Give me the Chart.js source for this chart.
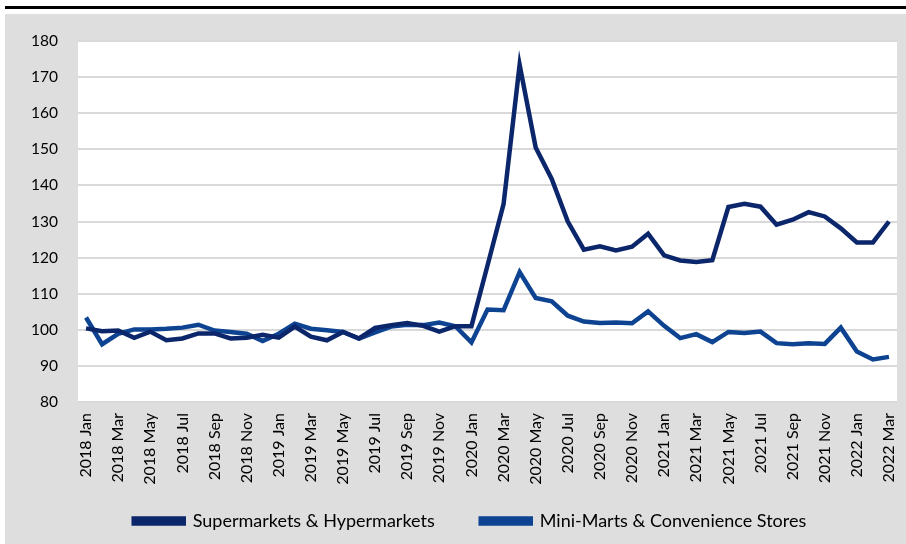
<!DOCTYPE html>
<html>
<head>
<meta charset="utf-8">
<script src="https://cdn.jsdelivr.net/npm/chart.js@4/dist/chart.umd.min.js"></script>
<style>
  html, body { margin: 0; padding: 0; background: #fff; }
  #rule { position: absolute; left: 5px; top: 6px; width: 901px; height: 3px; background: #000; }
  #box { position: absolute; left: 5px; top: 14px; width: 901px; height: 530px; background: #dedede; }
</style>
</head>
<body>
<div id="rule"></div>
<div id="box"><canvas id="cs" width="901" height="530"></canvas></div>
<script>
// monthly index, 2018 Jan .. 2022 Mar
var monthNames = "Jan,Feb,Mar,Apr,May,Jun,Jul,Aug,Sep,Oct,Nov,Dec".split(",");
var months = [];
for (var y = 2018; y <= 2022; y++) {
  for (var m = 0; m < 12; m++) {
    if (y === 2022 && m > 2) break;
    months.push(y + " " + monthNames[m]);
  }
}

var supermarkets = [100.4, 99.6, 99.8, 97.8, 99.5, 97.1, 97.6, 99.0, 99.0, 97.6,
  97.8, 98.6, 97.8, 100.9, 98.1, 97.1, 99.4, 97.6, 100.5, 101.3,
  101.9, 101.1, 99.5, 101.0, 101.0, 117.8, 134.8, 173.4, 150.5, 141.8,
  130.0, 122.2, 123.1, 122.0, 123.0, 126.6, 120.6, 119.2, 118.8, 119.3,
  134.0, 134.9, 134.1, 129.1, 130.5, 132.6, 131.4, 128.1, 124.2, 124.2, 130.0];

var miniMarts = [103.4, 96.0, 98.9, 100.1, 100.1, 100.3, 100.6, 101.4, 99.8, 99.4,
  98.9, 96.9, 98.9, 101.7, 100.3, 99.9, 99.4, 97.6, 99.3, 100.9,
  101.4, 101.3, 102.0, 101.0, 96.5, 105.6, 105.4, 116.0, 108.8, 107.9,
  103.9, 102.3, 101.9, 102.0, 101.8, 105.1, 101.1, 97.7, 98.8, 96.6,
  99.4, 99.1, 99.5, 96.3, 96.0, 96.3, 96.1, 100.6, 94.0, 91.8, 92.5];

var yMin = 80, yMax = 180, yStep = 10;

var FONT = "Lato, 'Open Sans', sans-serif";

// white plot area on the grey panel
var plotBg = {
  id: "plotBg",
  beforeDraw: function (chart) {
    var a = chart.chartArea, c = chart.ctx;
    c.save();
    c.fillStyle = "#ffffff";
    c.fillRect(a.left, a.top, a.right - a.left, a.bottom - a.top);
    c.restore();
  }
};

// x labels are longer than the fixed axis height: let them hang into the
// legend's empty top margin instead of being clipped; nudge legend right
var tweakLayout = {
  id: "tweakLayout",
  afterLayout: function (chart) {
    chart.scales.x.bottom = chart.height;
    chart.legend.left += 19;
    chart.legend.right += 19;
  }
};

var ctx = document.getElementById("cs");
var chart = new Chart(ctx, {
  type: "line",
  data: {
    labels: months,
    datasets: [{
      label: "Supermarkets & Hypermarkets",
      data: supermarkets,
      borderColor: "#0b266a",
      backgroundColor: "#0b266a",
      borderWidth: 4.5,
      pointRadius: 0,
      tension: 0
    }, {
      label: "Mini-Marts & Convenience Stores",
      data: miniMarts,
      borderColor: "#0d4391",
      backgroundColor: "#0d4391",
      borderWidth: 4.5,
      pointRadius: 0,
      tension: 0
    }]
  },
  options: {
    responsive: false,
    animation: false,
    layout: { padding: { top: 27, right: 9, left: 0, bottom: 4 } },
    scales: {
      x: {
        offset: true,
        afterFit: function (s) {
          s.height = 64;
          s.paddingLeft = 0;
          s.paddingRight = 0;
        },
        grid: { display: false, drawTicks: false },
        border: { display: false },
        ticks: {
          autoSkip: false,
          maxRotation: 90,
          minRotation: 90,
          padding: 11,
          color: "#000",
          font: { family: FONT, size: 16 },
          callback: function (v, i) { return i % 2 === 0 ? months[i] : ""; }
        }
      },
      y: {
        min: yMin,
        max: yMax,
        afterFit: function (s) {
          s.width = 73;
          s.paddingTop = 0;
          s.paddingBottom = 0;
        },
        grid: { color: "#d9d9d9", lineWidth: 2, drawTicks: false },
        border: { display: false },
        ticks: {
          stepSize: yStep,
          padding: 20,
          color: "#000",
          font: { family: FONT, size: 15.5 }
        }
      }
    },
    plugins: {
      legend: {
        position: "bottom",
        labels: {
          boxWidth: 50,
          boxHeight: 5,
          padding: 46,
          color: "#000",
          font: { family: FONT, size: 18 }
        }
      },
      tooltip: { enabled: false }
    }
  },
  plugins: [plotBg, tweakLayout]
});
</script>
</body>
</html>
